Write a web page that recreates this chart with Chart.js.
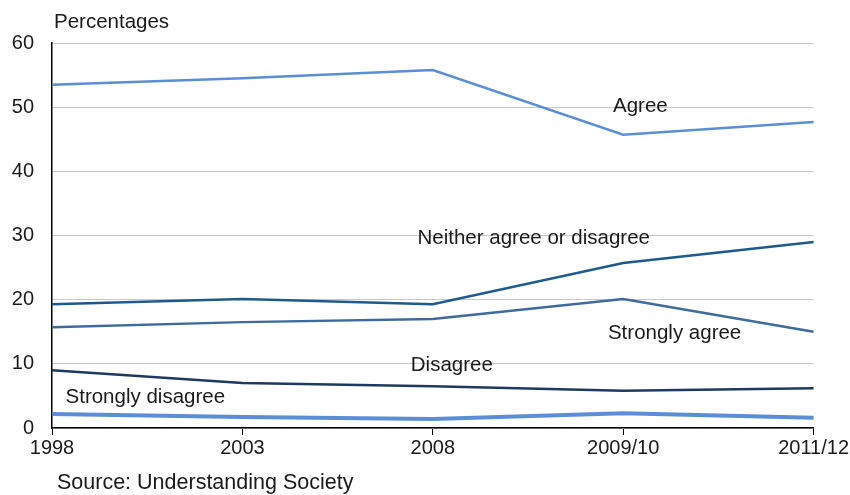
<!DOCTYPE html>
<html>
<head>
<meta charset="utf-8">
<script src="https://cdn.jsdelivr.net/npm/chart.js@4/dist/chart.umd.min.js"></script>
<style>
  html, body { margin: 0; padding: 0; background: #fff; }
  #wrap { width: 850px; height: 495px; position: relative; }
</style>
</head>
<body>
<div id="wrap"><canvas id="grafico"></canvas></div>
<script>
const anos = ['1998', '2003', '2008', '2009/10', '2011/12'];

const agree = [53.5, 54.5, 55.8, 45.7, 47.7];
const neither = [19.3, 20.1, 19.3, 25.7, 29.0];
const stronglyAgree = [15.7, 16.5, 17.0, 20.1, 15.0];
const disagree = [9.0, 7.0, 6.5, 5.8, 6.2];
const stronglyDisagree = [2.2, 1.7, 1.4, 2.3, 1.6];

const yTicks = [0, 10, 20, 30, 40, 50, 60];

// series labels placed on the chart: [text, category position, value]
const rotulos = [
    ['Agree', 3.09, 50.1],
    ['Neither agree or disagree', 2.53, 29.6],
    ['Strongly agree', 3.27, 14.8],
    ['Disagree', 2.1, 9.7],
    ['Strongly disagree', 0.49, 4.8]
];

const fonte = '"Liberation Sans", Arial, sans-serif';

const rotulosPlugin = {
    id: 'rotulos',
    afterDatasetsDraw(chart) {
        const ctx = chart.ctx;
        const x = chart.scales.x, y = chart.scales.y;
        ctx.save();
        ctx.font = '20.5px ' + fonte;
        ctx.fillStyle = '#1a1a1a';
        ctx.textAlign = 'center';
        ctx.textBaseline = 'middle';
        rotulos.forEach(r => {
            ctx.fillText(r[0], x.getPixelForValue(r[1]), y.getPixelForValue(r[2]));
        });
        ctx.textAlign = 'left';
        ctx.fillText('Percentages', 54, 22);
        ctx.font = '21.5px ' + fonte;
        ctx.fillText('Source: Understanding Society', 57, 483);
        ctx.restore();
    }
};

const serie = (label, data, cor, largura) => ({
    label, data,
    borderColor: cor,
    backgroundColor: cor,
    borderWidth: largura,
    pointRadius: 0,
    tension: 0,
    fill: false
});

new Chart(document.getElementById('grafico'), {
    type: 'line',
    data: {
        labels: anos,
        datasets: [
            serie('Agree', agree, '#5B8ED6', 2.5),
            serie('Neither agree or disagree', neither, '#1F5A8E', 2.5),
            serie('Strongly agree', stronglyAgree, '#3F6A9E', 2.5),
            serie('Disagree', disagree, '#1F3A60', 2.5),
            serie('Strongly disagree', stronglyDisagree, '#5B8ED6', 4)
        ]
    },
    options: {
        responsive: true,
        maintainAspectRatio: false,
        animation: false,
        layout: { padding: { top: 43, right: 35, bottom: 22, left: 0 } },
        plugins: {
            legend: { display: false },
            tooltip: { enabled: false }
        },
        scales: {
            x: {
                offset: false,
                afterFit: s => { s.height = 45; },
                grid: { drawOnChartArea: false, drawTicks: true, tickLength: 7, color: '#000' },
                border: { color: '#000', width: 1.5 },
                ticks: { font: { size: 20, family: fonte }, color: '#1a1a1a', padding: 1, maxRotation: 0, autoSkip: false }
            },
            y: {
                min: 0,
                max: 60,
                afterFit: s => { s.width = 52; },
                afterBuildTicks: s => { s.ticks = yTicks.map(v => ({ value: v })); },
                grid: { color: '#c8c8c8', drawTicks: false },
                border: { color: '#000', width: 1.5 },
                ticks: { font: { size: 20, family: fonte }, color: '#1a1a1a', padding: 18 }
            }
        }
    },
    plugins: [rotulosPlugin]
});
</script>
</body>
</html>
